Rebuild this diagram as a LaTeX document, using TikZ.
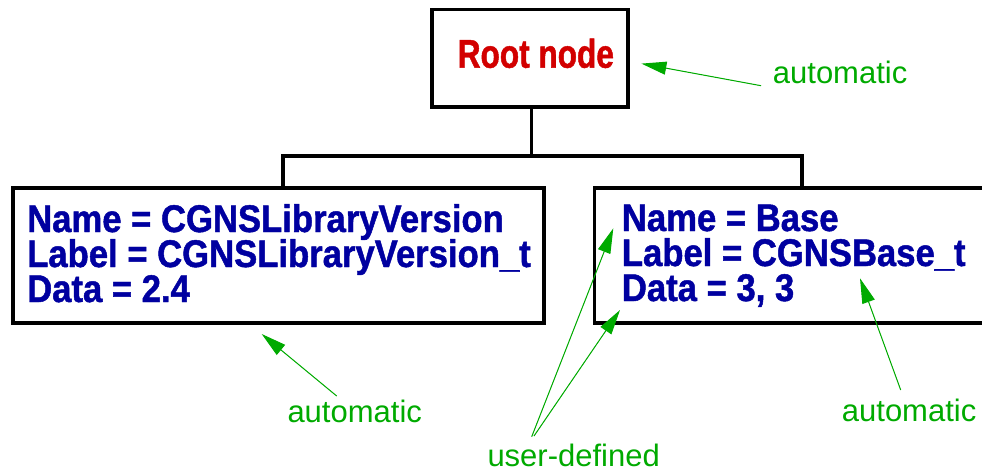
\documentclass[tikz,border=0pt]{standalone}
\usepackage{fontspec}
\setmainfont{Liberation Sans}
\newfontfamily\boxfont[FakeStretch=0.9,FakeBold=1.2]{Liberation Sans}
\newfontfamily\rootfont[FakeStretch=0.79,FakeBold=1.2]{Liberation Sans}
\usetikzlibrary{arrows.meta}
\definecolor{nodeblue}{RGB}{0,0,160}
\definecolor{rootred}{RGB}{210,0,0}
\definecolor{notegreen}{RGB}{0,170,0}
\tikzset{
  box/.style={draw=black, line width=3.3pt, fill=white, inner sep=0pt},
  conn/.style={draw=black, line width=3.3pt},
  boxtext/.style={anchor=base west, inner sep=0pt, text=nodeblue, font=\boxfont\bfseries\fontsize{38.5}{38}\selectfont},
  roottext/.style={anchor=base, inner sep=0pt, text=rootred, font=\rootfont\bfseries\fontsize{40}{40}\selectfont},
  note/.style={anchor=base west, inner sep=0pt, text=notegreen, font=\fontsize{31}{31}\selectfont},
  pointer/.style={draw=notegreen, line width=1pt, -{Triangle[length=25pt,width=13pt]}, fill=notegreen},
}
\begin{document}
\begin{tikzpicture}[x=1pt,y=-1pt]
\useasboundingbox (0,0) rectangle (982,472);
\clip (0,0) rectangle (982,472);
% boxes
\node[box, minimum width=196pt, minimum height=97.5pt] (root) at (530,58.25) {};
\node[box, minimum width=531pt, minimum height=135pt] (lib) at (278.5,255.5) {};
\node[box, minimum width=415.4pt, minimum height=135pt] (base) at (802,255.5) {};
% tree connectors
\coordinate (j) at (531.4,156);
\coordinate (jl) at (283,156);
\coordinate (jr) at (802,156);
\draw[conn] ([xshift=1.4pt]root.south) -- (j);
\draw[conn, line cap=rect] (jl) -- (jr);
\draw[conn] (jl) -- (jl |- lib.north);
\draw[conn] (jr) -- (base.north);
% texts
\node[roottext] (rt) at (535.8,67.7) {Root node};
\node[boxtext] (l1) at (27,232) {Name = CGNSLibraryVersion};
\node[boxtext] (l2) at (27,267) {Label = CGNSLibraryVersion\_t};
\node[boxtext] (l3) at (27,302) {Data = 2.4};
\node[boxtext] (b1) at (621.7,231) {Name = Base};
\node[boxtext] (b2) at (621.7,266) {Label = CGNSBase\_t};
\node[boxtext] (b3) at (621.7,301) {Data = 3, 3};
% notes
\node[note] (n1) at (772.7,83.3) {automatic};
\node[note] (n2) at (287.3,422.3) {automatic};
\node[note] (n3) at (841.7,421) {automatic};
\node[note] (n4) at (487.3,466.7) {user-defined};
% pointer ends
\coordinate (t1) at (761,85.7);
\coordinate (h1) at (641.4,63.6);
\coordinate (t2) at (336.7,396);
\coordinate (h2) at (261.7,334);
\coordinate (t3) at (900.7,390);
\coordinate (h3) at (860,278.3);
\coordinate (t4a) at (531.7,436.7);
\coordinate (h4a) at (613.3,228.3);
\coordinate (t4b) at (534,436);
\coordinate (h4b) at (620,310);
\draw[pointer] (t1) -- (h1);
\draw[pointer] (t2) -- (h2);
\draw[pointer] (t3) -- (h3);
\draw[pointer] (t4a) -- (h4a);
\draw[pointer] (t4b) -- (h4b);
\end{tikzpicture}
\end{document}
